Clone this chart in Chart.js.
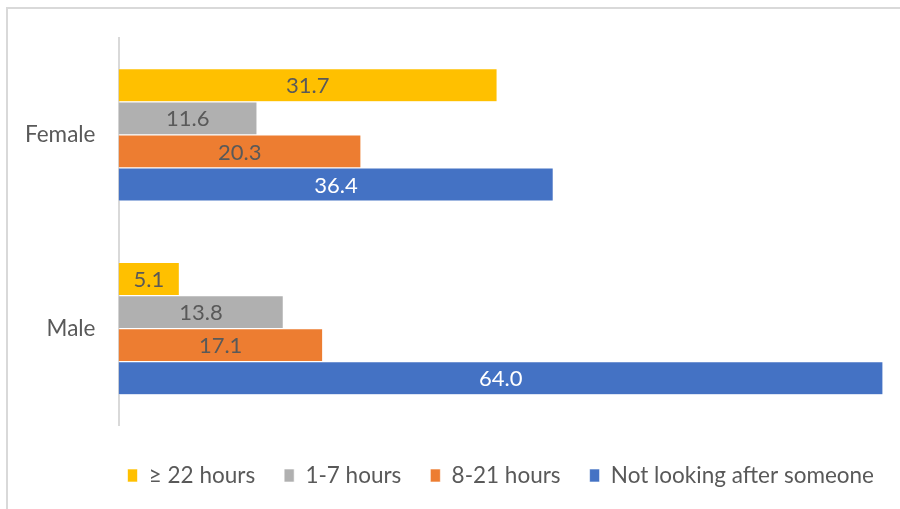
<!DOCTYPE html>
<html>
<head>
<meta charset="utf-8">
<script src="https://cdn.jsdelivr.net/npm/chart.js@4.4.0/dist/chart.umd.min.js"></script>
<style>
  html, body { margin: 0; padding: 0; background: #fff; }
  #wrap { width: 900px; height: 509px; position: relative; }
</style>
</head>
<body>
<div id="wrap"><canvas id="chart"></canvas></div>
<script>
const categories = ['Female', 'Male'];
const seriesNames = ['\u2265 22 hours', '1-7 hours', '8-21 hours', 'Not looking after someone'];
const over22 = [31.7, 5.1];
const oneToSeven = [11.6, 13.8];
const eightToTwentyOne = [20.3, 17.1];
const notLooking = [36.4, 64.0];
const colors = ['#FFC000', '#B0B0B0', '#ED7D31', '#4472C4'];
const labelColors = ['#595959', '#595959', '#595959', '#ffffff'];

const fontFamily = 'Lato, "Open Sans", sans-serif';
const fontSize = 22.5;

// draws value labels in the middle of each bar
const barLabels = {
    id: 'barLabels',
    afterDatasetsDraw(chart) {
        const ctx = chart.ctx;
        ctx.save();
        ctx.font = '22px ' + fontFamily;
        ctx.textAlign = 'center';
        ctx.textBaseline = 'middle';
        chart.data.datasets.forEach((ds, i) => {
            const meta = chart.getDatasetMeta(i);
            meta.data.forEach((bar, j) => {
                ctx.fillStyle = labelColors[i];
                ctx.fillText(ds.data[j].toFixed(1), (bar.x + bar.base) / 2, bar.y + 1);
            });
        });
        ctx.restore();
    }
};

// outer frame + move legend under the plot
const frame = {
    id: 'frame',
    beforeDraw(chart) {
        const ctx = chart.ctx;
        ctx.save();
        ctx.strokeStyle = '#D9D9D9';
        ctx.lineWidth = 2;
        ctx.strokeRect(7, 8, 1000, 1000);
        ctx.restore();
    },
    afterLayout(chart) {
        const lg = chart.legend;
        const ca = chart.chartArea;
        const c = (ca.left + ca.right) / 2;
        const w = lg.right - lg.left;
        lg.left = c - w / 2;
        lg.right = c + w / 2;
        const h = lg.bottom - lg.top;
        lg.top = 466 - h / 2;
        lg.bottom = lg.top + h;
    }
};

new Chart(document.getElementById('chart'), {
    type: 'bar',
    data: {
        labels: categories,
        datasets: [
            { label: seriesNames[0], data: over22, backgroundColor: colors[0] },
            { label: seriesNames[1], data: oneToSeven, backgroundColor: colors[1] },
            { label: seriesNames[2], data: eightToTwentyOne, backgroundColor: colors[2] },
            { label: seriesNames[3], data: notLooking, backgroundColor: colors[3] }
        ]
    },
    options: {
        indexAxis: 'y',
        responsive: true,
        maintainAspectRatio: false,
        animation: false,
        datasets: {
            bar: {
                barPercentage: 1,
                categoryPercentage: 0.683,
                borderColor: '#ffffff',
                borderWidth: 0.6
            }
        },
        layout: { padding: { left: 0, right: 17, top: 38, bottom: 22 } },
        scales: {
            x: { display: false, min: 0, max: 64 },
            y: {
                grid: { display: false, drawTicks: false },
                border: { color: '#D9D9D9', width: 2 },
                ticks: {
                    color: '#595959',
                    font: { family: fontFamily, size: fontSize },
                    padding: 23
                },
                afterFit(scale) { scale.width = 118.5; }
            }
        },
        plugins: {
            legend: {
                position: 'bottom',
                labels: {
                    color: '#595959',
                    font: { family: fontFamily, size: fontSize },
                    boxWidth: 10,
                    boxHeight: 13,
                    padding: 29
                }
            },
            tooltip: { enabled: false }
        }
    },
    plugins: [barLabels, frame]
});
</script>
</body>
</html>
